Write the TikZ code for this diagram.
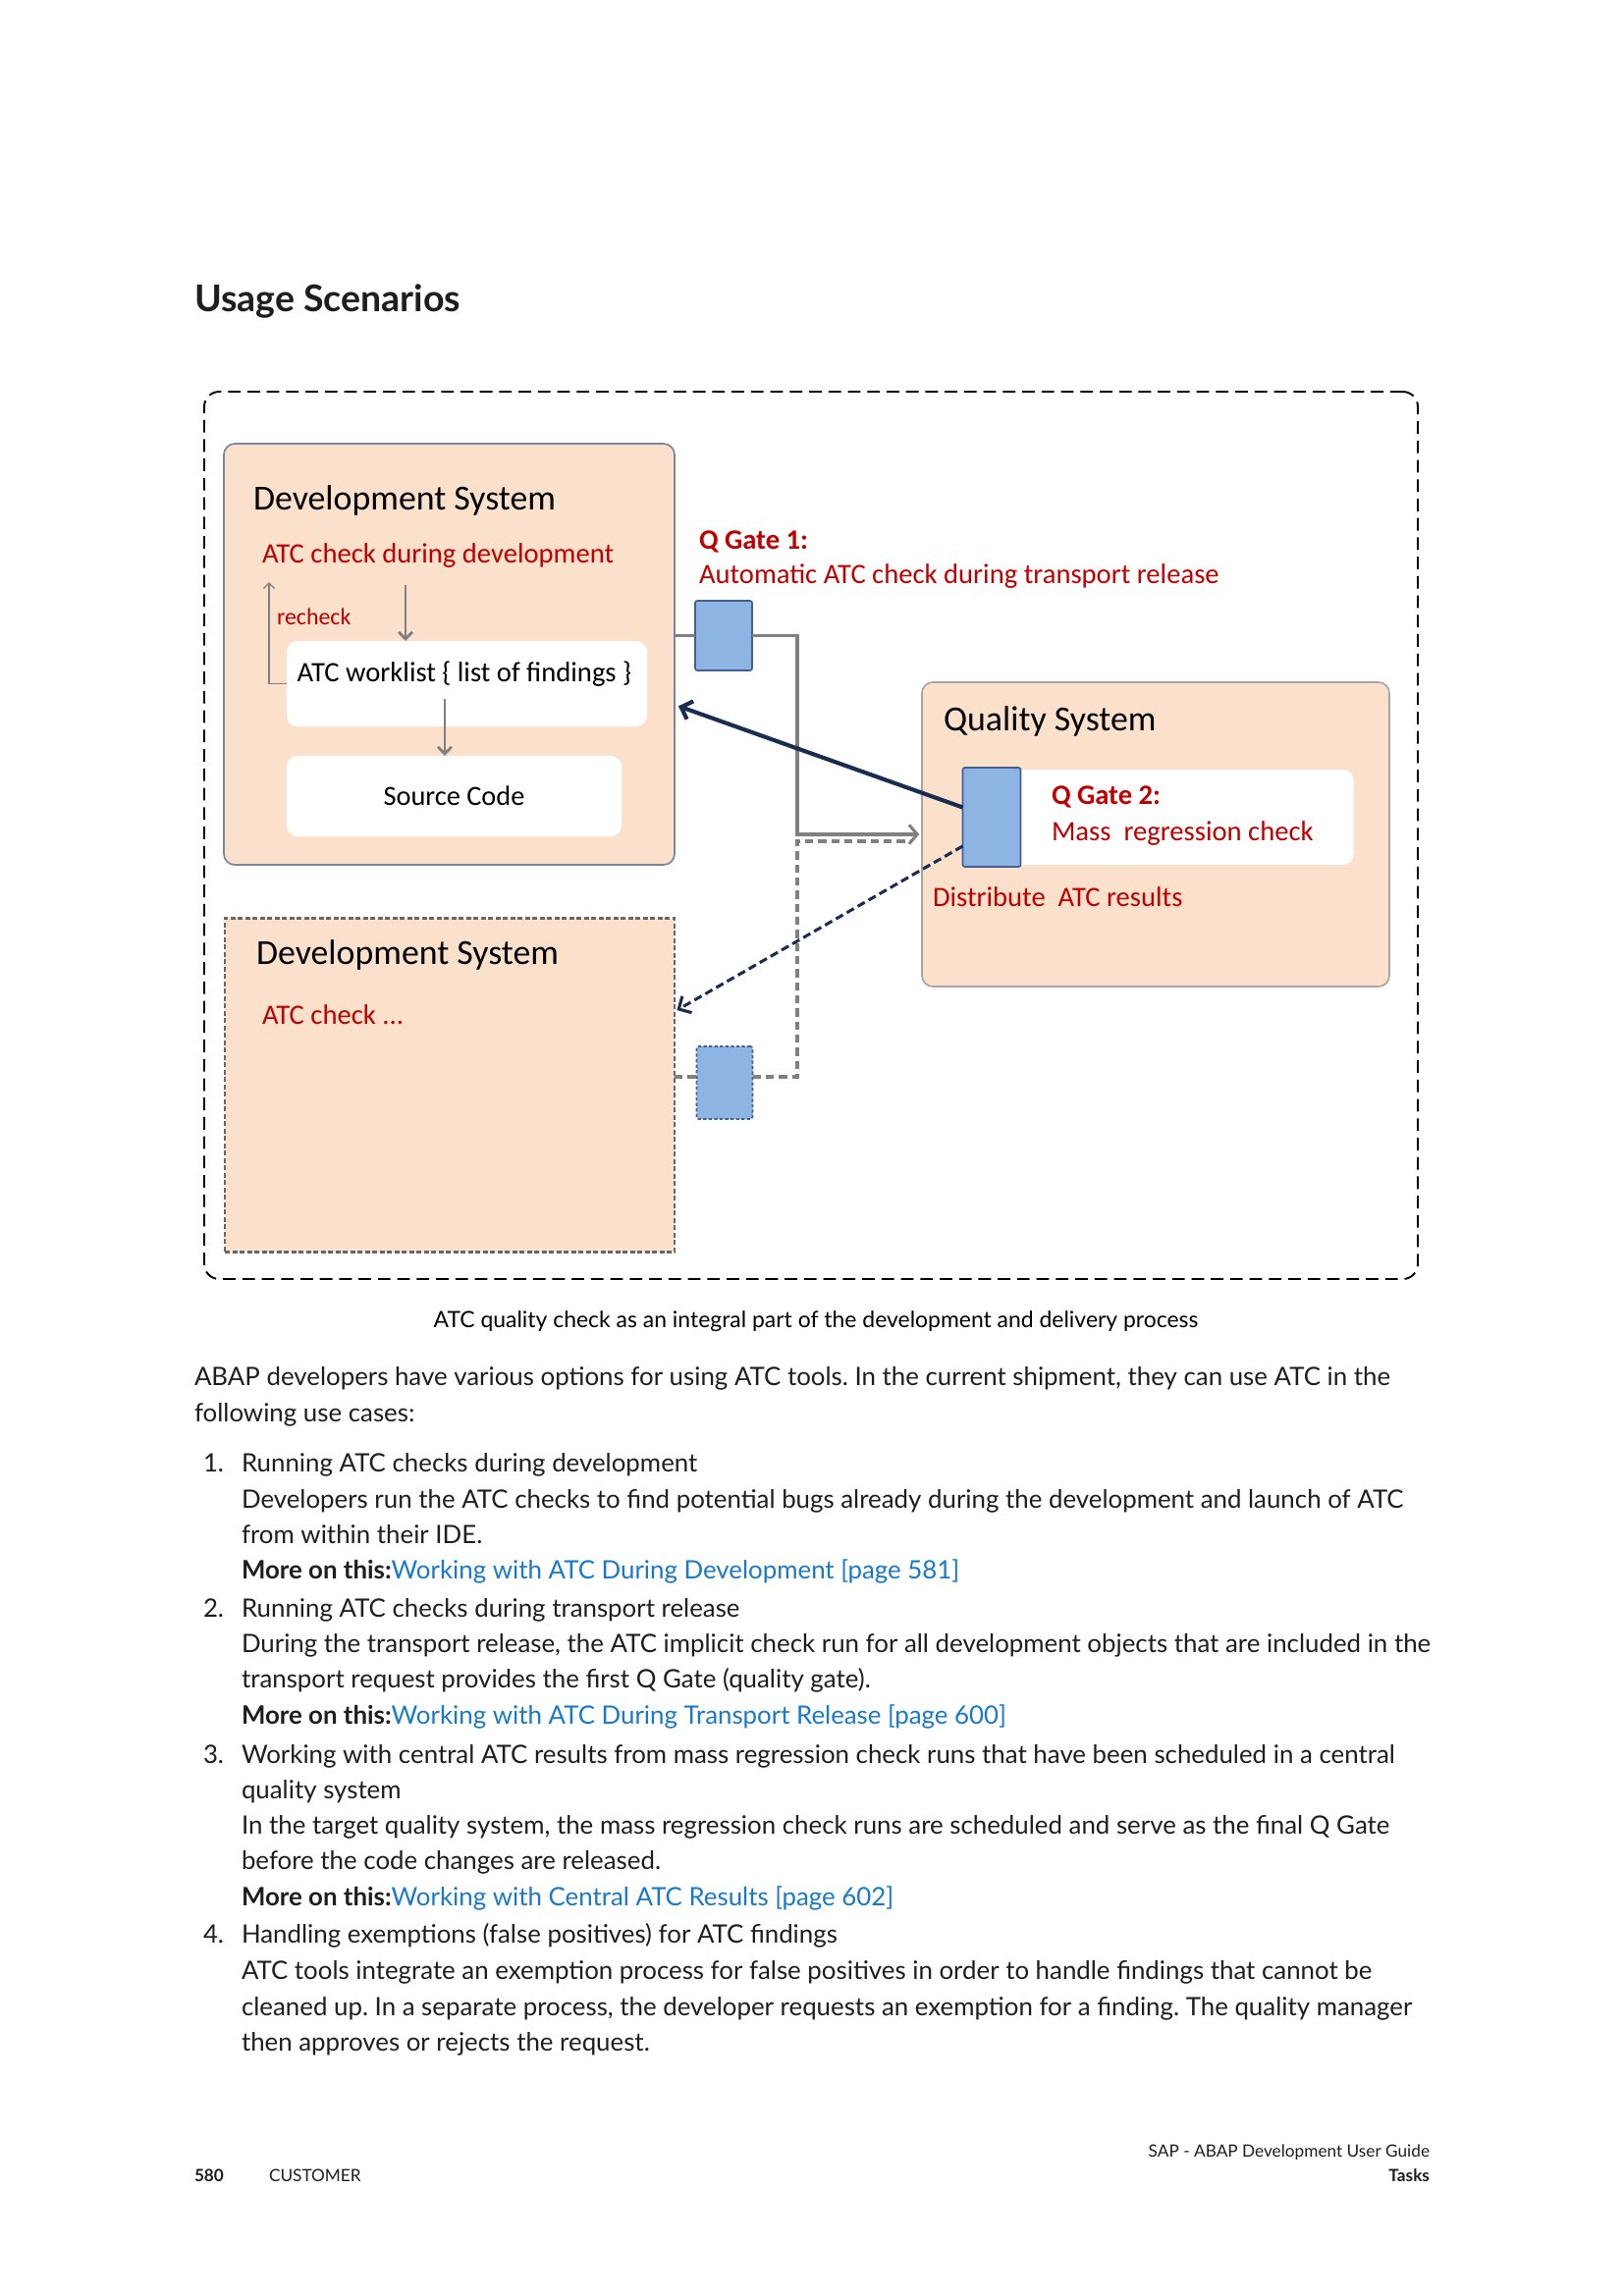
\documentclass[tikz,border=0pt]{standalone}
\usepackage{fontspec}
\setmainfont{Lato}
\newfontfamily\calibri{Carlito}
\usetikzlibrary{arrows.meta,calc}
\definecolor{peach}{RGB}{251,224,204}
\definecolor{atcred}{RGB}{192,0,0}
\definecolor{gateblue}{RGB}{141,180,226}
\definecolor{gateedge}{RGB}{65,95,145}
\definecolor{navy}{RGB}{25,45,80}
\definecolor{sysedge}{RGB}{120,135,160}
\definecolor{qedge}{RGB}{165,165,165}
\definecolor{wiregray}{RGB}{128,128,128}
\definecolor{linkblue}{RGB}{25,120,200}
\definecolor{bodytext}{RGB}{30,30,30}
\def\px{0.3599pt}
\frenchspacing

\begin{document}
\begin{tikzpicture}[
    x=\px, y=-\px,
    every node/.style = {inner sep = 0pt, outer sep = 0pt},
    boxsize/.style 2 args = {minimum width = #1*\px, minimum height = #2*\px},
    frame/.style = {draw, line width = 0.7pt, dash pattern = on 4.6pt off 2.5pt,
      rounded corners = 5.5pt},
    sysbox/.style = {draw = sysedge, line width = 0.6pt, fill = peach,
      rounded corners = 4pt},
    nextsys/.style = {draw = black!60, line width = 0.9pt, fill = peach,
      dash pattern = on 1.8pt off 0.9pt},
    whitebox/.style = {fill = white, rounded corners = 4pt},
    gate/.style = {draw = gateedge, line width = 0.6pt, fill = gateblue,
      rounded corners = 0.8pt},
    systitle/.style = {anchor = west, font = \calibri\fontsize{12.9}{14}\selectfont},
    atclabel/.style = {anchor = west, text = atcred,
      font = \calibri\fontsize{10.3}{12}\selectfont, text height = 7pt, text depth = 2pt},
    flow/.style = {draw = wiregray, line width = 1pt, -{Straight Barb[length = 2.6pt, width = 5pt]}},
    transport/.style = {draw = wiregray, line width = 1.1pt},
    results/.style = {draw = navy, line width = 1.5pt,
      -{Straight Barb[length = 3.5pt, width = 7pt]}},
    bodyline/.style = {anchor = west, text = bodytext,
      font = \fontsize{9.3}{11}\selectfont, text height = 7pt, text depth = 2pt},
    footline/.style = {text = bodytext, font = \fontsize{6.2}{8}\selectfont}
  ]
  \useasboundingbox (0,0) rectangle (1654,2339);

  \node[anchor = west, font = \bfseries\fontsize{13.5}{15}\selectfont, text = bodytext]
    (heading) at (198,307) {Usage Scenarios};

  \node[frame, boxsize = {1236}{904}] (scenario) at (826,851) {};
  \node[sysbox, boxsize = {459}{429}] (dev) at (457.5,666.5) {};
  \node[whitebox, boxsize = {367}{87}] (worklist) at (475.5,696.5) {};
  \node[whitebox, boxsize = {341}{82}, font = \calibri\fontsize{10.2}{12}\selectfont]
    (source) at (462.5,811) {Source Code};
  \node[gate, boxsize = {58}{71}] (qgate1) at (737,647.5) {};
  \node[sysbox, draw = qedge, boxsize = {476}{310}] (quality) at (1177,850) {};
  \node[whitebox, boxsize = {351}{97}] (regress) at (1203,832.5) {};
  \node[gate, boxsize = {59}{101}] (qgate2) at (1010,832.5) {};
  \node[nextsys, boxsize = {458}{340}] (devnext) at (458,1105.5) {};
  \node[gate, dash pattern = on 1.2pt off 0.8pt, boxsize = {57}{74}] (qgate3) at (738,1103) {};

  \node[systitle] (devtitle) at (258,510) {Development System};
  \node[atclabel] (atcdev) at (267,567) {ATC check during development};
  \node[atclabel, font = \calibri\fontsize{8.6}{10}\selectfont] (recheck) at (282,630) {recheck};
  \node[anchor = center, font = \calibri\fontsize{10.3}{12}\selectfont, text height = 7pt,
    text depth = 2pt] (worklisttxt) at (473,688) {ATC worklist \{ list of findings \}};
  \node[atclabel, font = \calibri\bfseries\fontsize{10.3}{12}\selectfont] (gate1name) at (712,553) {Q Gate 1:};
  \node[atclabel] (gate1text) at (712,588) {Automatic ATC check during transport release};
  \node[systitle] (qtitle) at (961,735) {Quality System};
  \node[atclabel, font = \calibri\bfseries\fontsize{10.3}{12}\selectfont] (gate2name) at (1071,813) {Q Gate 2:};
  \node[atclabel] (gate2text) at (1071,850) {Mass\ \ regression check};
  \node[atclabel] (distribute) at (950,917) {Distribute\ \ ATC results};
  \node[systitle] (nexttitle) at (261,973) {Development System};
  \node[atclabel] (nextcheck) at (267,1037) {ATC check ...};

  \coordinate (dropA) at (413,0);
  \coordinate (dropB) at (453,0);
  \coordinate (recheckTop) at (274,593);
  \coordinate (joinA) at (812,850);
  \coordinate (joinB) at (812,857);
  \coordinate (tapB) at (0,1097);

  \draw[flow, shorten <= 6pt] (atcdev.south -| dropA) -- (worklist.north -| dropA);
  \draw[flow, shorten <= 4pt] (worklisttxt.south -| dropB) -- (source.north -| dropB);
  \draw[flow, line width = 0.5pt, -{Straight Barb[length = 2pt, width = 4pt]}]
    (worklist.west) -| (recheckTop);

  \draw[transport] (dev.east |- qgate1) -- (qgate1.west);
  \draw[transport, -{Straight Barb[length = 3pt, width = 7pt]}]
    (qgate1.east) -| (joinA) -- ([xshift = -1pt]joinA -| quality.west);
  \draw[transport, dash pattern = on 3pt off 1.8pt] (devnext.east |- tapB) -- (qgate3.west |- tapB);
  \draw[transport, dash pattern = on 3pt off 1.8pt]
    (qgate3.east |- tapB) -| (joinB) -- ([xshift = -4pt]joinB -| quality.west);

  \draw[results, shorten > = 1.5pt] ([yshift = 3.6pt]qgate2.west) -- ([yshift = -18.5pt]dev.east);
  \draw[results, line width = 1.1pt, dash pattern = on 3pt off 1.6pt, shorten > = 1pt]
    ([yshift = -10.6pt]qgate2.west) -- ([yshift = 27pt]devnext.east);

  \node[anchor = center, text = black, font = \fontsize{8.25}{10}\selectfont]
    (caption) at (831,1346) {ATC quality check as an integral part of the development and delivery process};

  \foreach \yy/\txt in {
      1405/{ABAP developers have various options for using ATC tools. In the current shipment, they can use ATC in the},
      1442/{following use cases:}}
    \node[bodyline] at (198,\yy) {\txt};
  \foreach \yy/\num in {1493/1., 1641/2., 1790/3., 1973/4.}
    \node[bodyline] at (207,\yy) {\num};
  \foreach \yy/\txt in {
      1493/{Running ATC checks during development},
      1530/{Developers run the ATC checks to find potential bugs already during the development and launch of ATC},
      1566/{from within their IDE.},
      1602/{\textbf{More on this:}\textcolor{linkblue}{Working with ATC During Development [page 581]}},
      1641/{Running ATC checks during transport release},
      1677/{During the transport release, the ATC implicit check run for all development objects that are included in the},
      1713/{transport request provides the first Q Gate (quality gate).},
      1750/{\textbf{More on this:}\textcolor{linkblue}{Working with ATC During Transport Release [page 600]}},
      1790/{Working with central ATC results from mass regression check runs that have been scheduled in a central},
      1826/{quality system},
      1862/{In the target quality system, the mass regression check runs are scheduled and serve as the final Q Gate},
      1898/{before the code changes are released.},
      1935/{\textbf{More on this:}\textcolor{linkblue}{Working with Central ATC Results [page 602]}},
      1973/{Handling exemptions (false positives) for ATC findings},
      2010/{ATC tools integrate an exemption process for false positives in order to handle findings that cannot be},
      2047/{cleaned up. In a separate process, the developer requests an exemption for a finding. The quality manager},
      2083/{then approves or rejects the request.}}
    \node[bodyline] at (246,\yy) {\txt};

  \node[footline, anchor = east] (guide) at (1456,2193) {SAP - ABAP Development User Guide};
  \node[footline, anchor = east, font = \bfseries\fontsize{6.2}{8}\selectfont]
    (chapter) at (1456,2216) {Tasks};
  \node[footline, anchor = west, font = \bfseries\fontsize{6.2}{8}\selectfont]
    (pageno) at (198,2216) {580};
  \node[footline, anchor = west] (audience) at (274,2216) {CUSTOMER};
\end{tikzpicture}
\end{document}
